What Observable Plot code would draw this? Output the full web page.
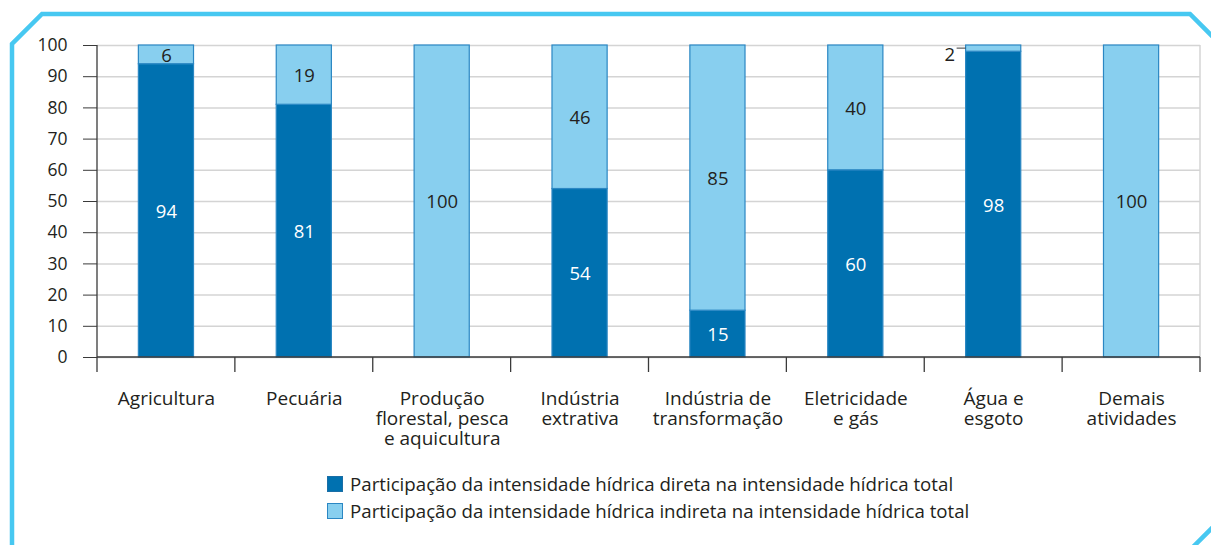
<!DOCTYPE html>
<html>
<head>
<meta charset="utf-8">
<script src="https://cdn.jsdelivr.net/npm/d3@7"></script>
<script src="https://cdn.jsdelivr.net/npm/@observablehq/plot@0.6"></script>
<style>
  html, body { margin: 0; padding: 0; background: #fff; }
  #wrap { position: relative; width: 1211px; height: 545px; overflow: hidden; font-family: "Open Sans", sans-serif; color: #231f20; }
  #frame { position: absolute; left: 0; top: 0; }
  #chart { position: absolute; left: 0; top: 0; }
  #legend { position: absolute; left: 327px; top: 470px; font-size: 18.7px; }
  .item { display: flex; align-items: center; height: 27px; }
  .sw { width: 14px; height: 14px; border: 1px solid #2b87c3; margin-right: 7px; }
</style>
</head>
<body>
<div id="wrap">
  <svg id="frame" width="1211" height="545"></svg>
  <div id="chart"></div>
  <div id="legend"></div>
</div>
<script>
const categories = ["Agricultura", "Pecuária", "Produção\nflorestal, pesca\ne aquicultura", "Indústria\nextrativa", "Indústria de\ntransformação", "Eletricidade\ne gás", "Água e\nesgoto", "Demais\natividades"];
const direta = [94, 81, 0, 54, 15, 60, 98, 0];
const indireta = [6, 19, 100, 46, 85, 40, 2, 100];
const seriesNames = [
  "Participação da intensidade hídrica direta na intensidade hídrica total",
  "Participação da intensidade hídrica indireta na intensidade hídrica total"
];
const seriesColors = ["#0071b0", "#88cfef"];
const labelColors = ["#ffffff", "#231f20"];
const yTicks = [0, 10, 20, 30, 40, 50, 60, 70, 80, 90, 100];

const rows = [];
categories.forEach((c, i) => {
  rows.push({cat: c, serie: seriesNames[0], value: direta[i], s: 0});
  rows.push({cat: c, serie: seriesNames[1], value: indireta[i], s: 1});
});

// frame decoration
const fr = d3.select("#frame");
fr.append("polygon")
  .attr("points", "12,570 12,44 42,14 1190,14 1224,48 1224,516 1180,560")
  .attr("fill", "none").attr("stroke", "#47c8f1").attr("stroke-width", 4.5);

function structure(index, scales, values, dims) {
  const {width, marginLeft, marginRight} = dims;
  const g = d3.create("svg:g");
  const y0 = scales.y(0), y100 = scales.y(100);
  const xr = width - marginRight;
  const step = scales.x(categories[1]) - scales.x(categories[0]);
  g.append("line").attr("x1", xr).attr("x2", xr).attr("y1", y100).attr("y2", y0)
    .attr("stroke", "#d4d4d4").attr("stroke-width", 1.5);
  g.append("line").attr("x1", marginLeft).attr("x2", xr).attr("y1", y0).attr("y2", y0)
    .attr("stroke", "#3a3a3a").attr("stroke-width", 1.3);
  g.append("line").attr("x1", marginLeft).attr("x2", marginLeft).attr("y1", y100).attr("y2", y0)
    .attr("stroke", "#3a3a3a").attr("stroke-width", 1.3);
  for (let i = 0; i <= categories.length; i++) {
    const x = marginLeft + i * step;
    g.append("line").attr("x1", x).attr("x2", x).attr("y1", y0).attr("y2", y0 + 15)
      .attr("stroke", "#3a3a3a").attr("stroke-width", 1.3);
  }
  let acc = {};
  rows.forEach(r => {
    const base = acc[r.cat] || 0;
    acc[r.cat] = base + r.value;
    if (r.value > 0 && r.value < 4) {
      const ym = scales.y(base + r.value / 2);
      const xs = scales.x(r.cat);
      g.append("line").attr("x1", xs - 9).attr("x2", xs).attr("y1", ym).attr("y2", ym)
        .attr("stroke", "#3a3a3a").attr("stroke-width", 1);
    }
  });
  return g.node();
}

const chart = Plot.plot({
  width: 1211,
  height: 460,
  marginTop: 45,
  marginBottom: 103,
  marginLeft: 97,
  marginRight: 11,
  style: {fontFamily: "'Open Sans', sans-serif", fontSize: "17px", color: "#231f20", background: "transparent"},
  x: {domain: categories, paddingInner: 0.6, paddingOuter: 0.3, round: false, label: null},
  y: {domain: [0, 100], label: null},
  color: {domain: seriesNames, range: seriesColors},
  marks: [
    Plot.gridY(yTicks, {stroke: "#d4d4d4", strokeOpacity: 1, strokeWidth: 1.5}),
    Plot.barY(rows, {x: "cat", y: "value", fill: "serie", stroke: "#2b87c3", strokeWidth: 1.2, order: null}),
    structure,
    Plot.text(rows, Plot.stackY({x: "cat", y: "value", order: null,
      text: d => (d.value >= 4 ? String(d.value) : ""),
      fill: d => labelColors[d.s], fontSize: 18.5, dy: 1})),
    Plot.text(rows, Plot.stackY({x: "cat", y: "value", order: null,
      text: d => (d.value > 0 && d.value < 4 ? String(d.value) : ""),
      fill: "#231f20", textAnchor: "end", dx: -38.5, dy: 6, fontSize: 18.5})),
    Plot.axisY({ticks: yTicks, tickSize: 14, tickPadding: 16, fontSize: 17.5, label: null, stroke: "#3a3a3a"}),
    Plot.axisX({tickSize: 0, tickPadding: 33, lineHeight: 1.05, fontSize: 19, label: null})
  ]
});
document.getElementById("chart").appendChild(chart);

const legend = d3.select("#legend");
seriesNames.forEach((s, i) => {
  const it = legend.append("div").attr("class", "item");
  it.append("div").attr("class", "sw").style("background", seriesColors[i])
    .style("border-color", i === 0 ? "#1a6ea6" : "#2b87c3");
  it.append("span").text(s);
});
</script>
</body>
</html>
